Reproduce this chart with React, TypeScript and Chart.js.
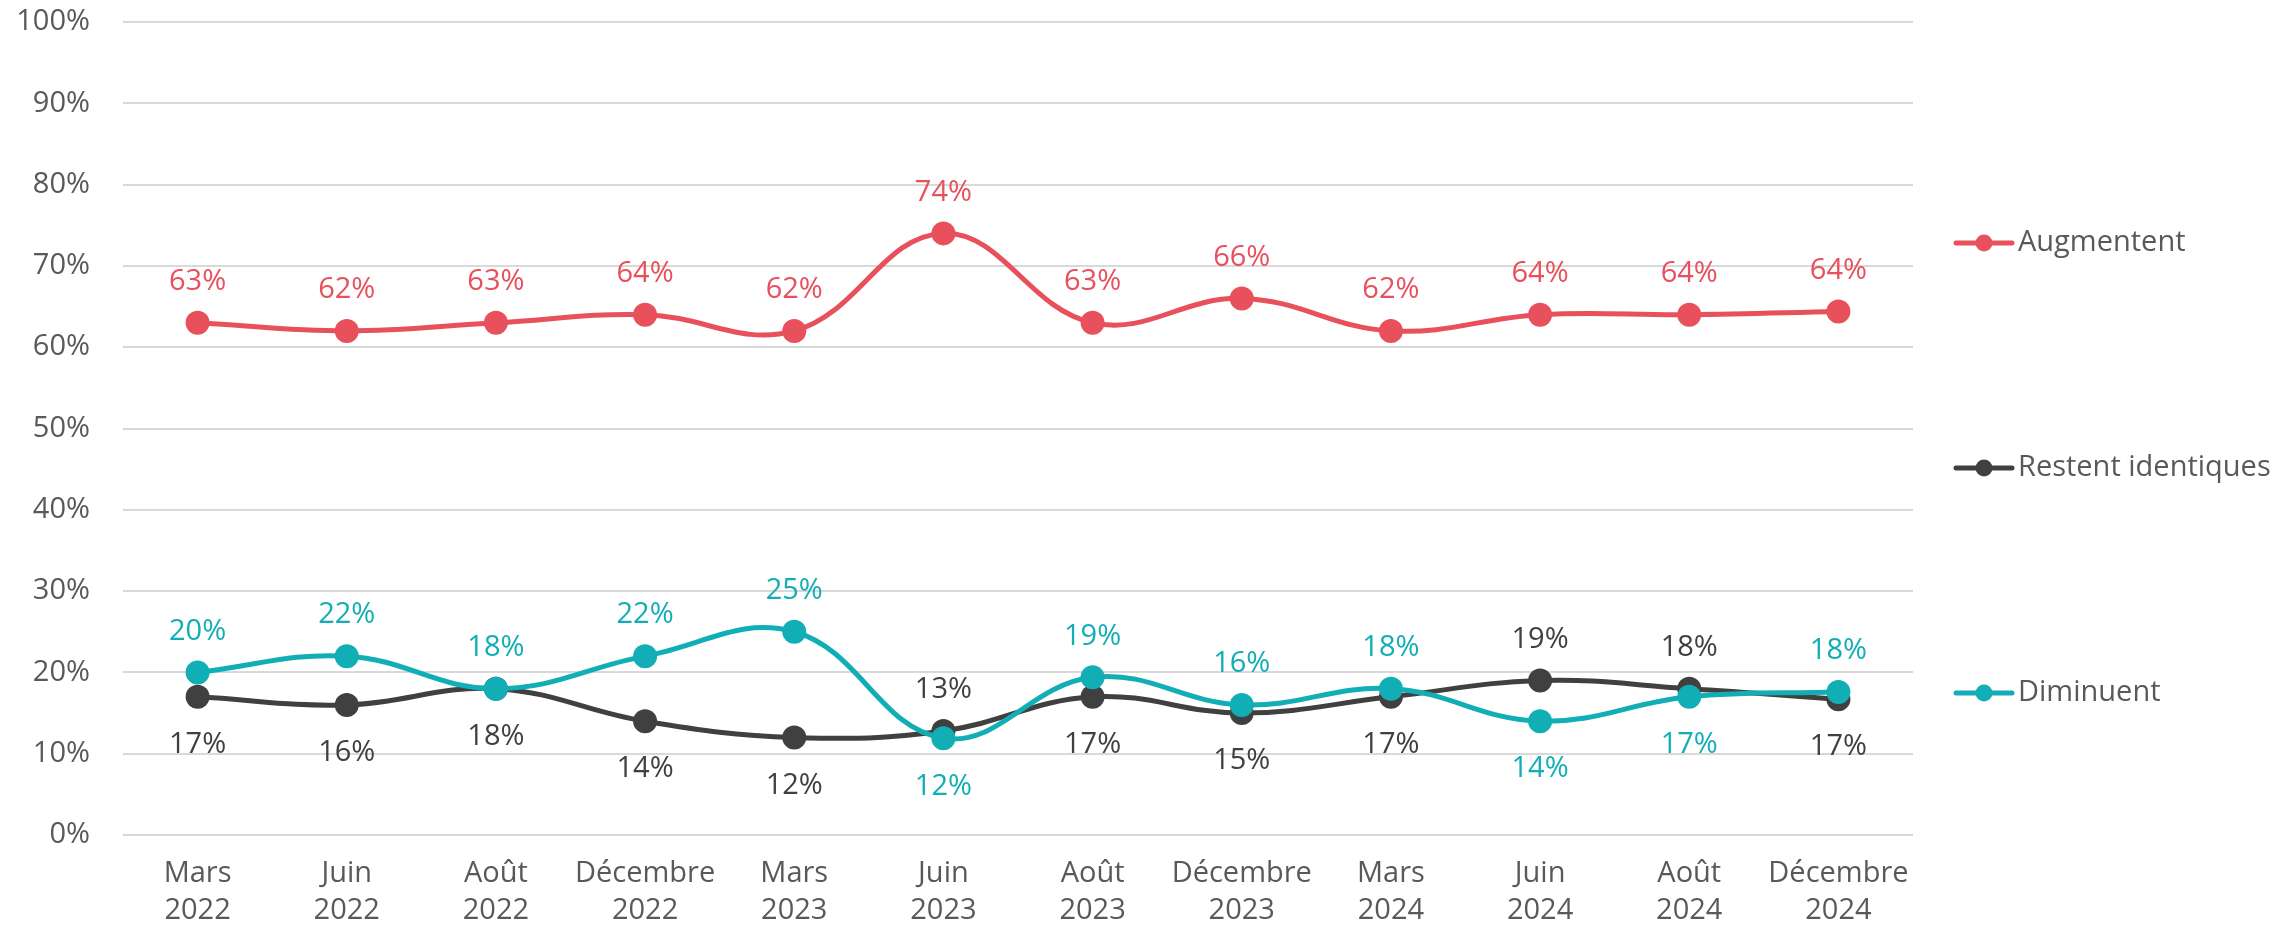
import React, { useEffect, useRef } from "react";
import Chart from "chart.js/auto";

const categories: string[][] = [
  ["Mars", "2022"], ["Juin", "2022"], ["Août", "2022"], ["Décembre", "2022"],
  ["Mars", "2023"], ["Juin", "2023"], ["Août", "2023"], ["Décembre", "2023"],
  ["Mars", "2024"], ["Juin", "2024"], ["Août", "2024"], ["Décembre", "2024"],
];
const seriesNames = ["Augmentent", "Restent identiques", "Diminuent"];
const augmentent = [63, 62, 63, 64, 62, 74, 63, 66, 62, 64, 64, 64.4];
const restent = [17, 16, 18, 14, 12, 12.8, 17, 15, 17, 19, 18, 16.7];
const diminuent = [20, 22, 18, 22, 25, 11.9, 19.4, 16, 18, 14, 17, 17.6];
// label side: 1 = above the point, -1 = below
const augmententSide = [1, 1, 1, 1, 1, 1, 1, 1, 1, 1, 1, 1];
const restentSide = [-1, -1, -1, -1, -1, 1, -1, -1, -1, 1, 1, -1];
const diminuentSide = [1, 1, 1, 1, 1, -1, 1, 1, 1, -1, -1, 1];
const yMin = 0;
const yMax = 100;
const yStep = 10;

const RED = "#E8505B";
const DARK = "#404040";
const TEAL = "#12AEB6";
const TEXT = "#595959";
const GRID = "#D9D9D9";
const FONT = "'Open Sans', sans-serif";
const FS = 29;

const colors = [RED, DARK, TEAL];
const sides = [augmententSide, restentSide, diminuentSide];

const labelPlugin = {
  id: "pointLabels",
  afterDatasetsDraw(chart: any) {
    const ctx = chart.ctx;
    ctx.save();
    ctx.font = `${FS}px ${FONT}`;
    ctx.textAlign = "center";
    ctx.textBaseline = "middle";
    chart.data.datasets.forEach((ds: any, di: number) => {
      const meta = chart.getDatasetMeta(di);
      meta.data.forEach((el: any, i: number) => {
        const side = sides[di][i];
        const off = side > 0 ? -41 : 48;
        ctx.fillStyle = colors[di];
        ctx.fillText(Math.round(ds.data[i]) + "%", el.x, el.y + off);
      });
    });
    ctx.restore();
  },
};

const legendPlugin = {
  id: "sideLegend",
  afterDraw(chart: any) {
    const ctx = chart.ctx;
    const area = chart.chartArea;
    const x0 = area.right + 43;
    const lineLen = 56;
    const top = 243;
    const step = 225;
    ctx.save();
    seriesNames.forEach((name, i) => {
      const y = top + i * step;
      ctx.strokeStyle = colors[i];
      ctx.lineWidth = 5;
      ctx.lineCap = "round";
      ctx.beginPath();
      ctx.moveTo(x0, y);
      ctx.lineTo(x0 + lineLen, y);
      ctx.stroke();
      ctx.fillStyle = colors[i];
      ctx.beginPath();
      ctx.arc(x0 + lineLen / 2, y, 8.5, 0, Math.PI * 2);
      ctx.fill();
      ctx.font = `${FS}px ${FONT}`;
      ctx.fillStyle = TEXT;
      ctx.textAlign = "left";
      ctx.textBaseline = "middle";
      ctx.fillText(name, x0 + lineLen + 6, y);
    });
    ctx.restore();
  },
};

export default function App() {
  const ref = useRef<HTMLCanvasElement | null>(null);
  useEffect(() => {
    if (!ref.current) return;
    const mk = (label: string, data: number[], color: string, order: number) => ({
      label,
      data,
      borderColor: color,
      backgroundColor: color,
      pointBackgroundColor: color,
      pointBorderWidth: 0,
      pointRadius: 12,
      borderWidth: 5,
      tension: 0.4,
      fill: false,
      order,
    });
    const chart = new Chart(ref.current, {
      type: "line",
      data: {
        labels: categories,
        datasets: [
          mk(seriesNames[0], augmentent, RED, 2),
          mk(seriesNames[1], restent, DARK, 1),
          mk(seriesNames[2], diminuent, TEAL, 0),
        ],
      },
      options: {
        animation: false,
        responsive: true,
        maintainAspectRatio: false,
        layout: { padding: { left: 0, top: 22, right: 380, bottom: 0 } },
        plugins: { legend: { display: false }, tooltip: { enabled: false } },
        scales: {
          x: {
            offset: true,
            grid: { display: false, drawTicks: false },
            border: { display: false },
            ticks: {
              autoSkip: false,
              maxRotation: 0,
              color: TEXT,
              padding: 21,
              font: { family: FONT, size: FS, lineHeight: 1.25 },
            },
            afterFit(scale: any) {
              scale.height = 95;
              scale.paddingLeft = 0;
              scale.paddingRight = 0;
            },
          },
          y: {
            min: yMin,
            max: yMax,
            grid: { color: GRID, lineWidth: 2, drawTicks: false },
            border: { display: false },
            ticks: {
              stepSize: yStep,
              color: TEXT,
              padding: 33,
              font: { family: FONT, size: FS },
              callback: (v: any) => v + "%",
            },
            afterFit(scale: any) {
              scale.width = 123;
              scale.paddingTop = 0;
              scale.paddingBottom = 0;
            },
          },
        },
      },
      plugins: [labelPlugin, legendPlugin],
    } as any);
    return () => chart.destroy();
  }, []);
  return (
    <div style={{ position: "fixed", left: 0, top: 0, width: 2293, height: 930, background: "#fff" }}>
      <canvas ref={ref} />
    </div>
  );
}
